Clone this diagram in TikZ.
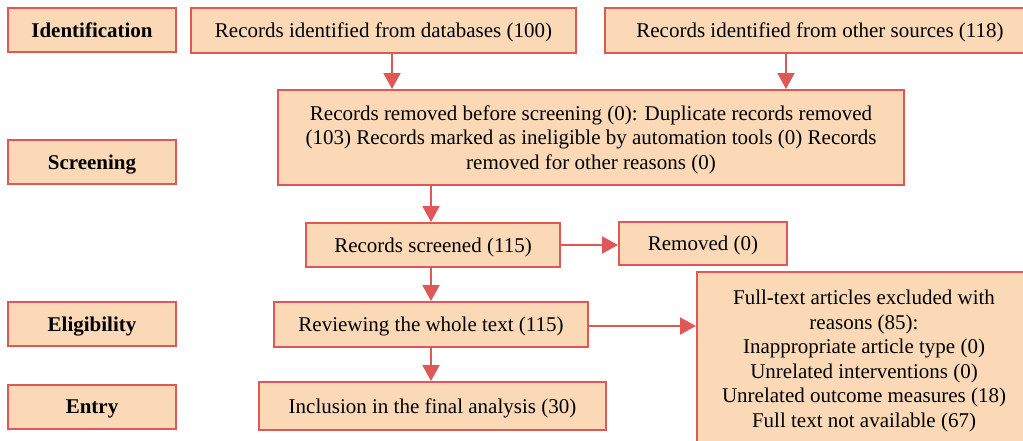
\documentclass[tikz,border=0pt]{standalone}
\usepackage{fontspec}
\setmainfont{Liberation Serif}
\usepackage{tikz}
\usetikzlibrary{arrows.meta,positioning}
\definecolor{boxfill}{HTML}{FCD9B6}
\definecolor{boxline}{HTML}{E05757}

\begin{document}
\begin{tikzpicture}[x=1pt, y=-1pt, line width=2pt, >={Triangle[width=17pt,length=16pt]},
  box/.style={draw=boxline, fill=boxfill, inner sep=0pt, align=center, text depth=0pt,
    font=\fontsize{21}{24.6}\selectfont},
  stage/.style={box, minimum width=168pt, minimum height=44pt, font=\fontsize{21}{24.6}\selectfont\bfseries},
  arr/.style={->, draw=boxline}]

\useasboundingbox (0,0) rectangle (1023,440);

% stage labels
\node[stage] (ident) at (92,30) {Identification};
\node[stage] (screen) at (92,162) {Screening};
\node[stage] (elig) at (92,324) {Eligibility};
\node[stage] (entry) at (92,407) {Entry};

% flow
\node[box, minimum width=385pt, minimum height=45pt] (db) at (383.5,30.5) {Records identified from databases (100)};
\node[box, minimum width=430pt, minimum height=45pt] (other) at (820,30.5) {Records identified from other sources (118)};
\node[box, minimum width=626pt, minimum height=95pt] (before) at (591,137.5) {Records removed before screening (0): Duplicate records removed\\(103) Records marked as ineligible by automation tools (0) Records\\removed for other reasons (0)};
\node[box, minimum width=254pt, minimum height=44pt] (screened) at (433,245) {Records screened (115)};
\node[box, minimum width=168pt, minimum height=43pt] (removed) at (703,243.5) {Removed (0)};
\node[box, minimum width=314pt, minimum height=45pt] (review) at (431,324.5) {Reviewing the whole text (115)};
\node[box, minimum width=347pt, minimum height=48pt] (incl) at (432.5,406) {Inclusion in the final analysis (30)};
\node[box, text depth=, minimum width=334pt, minimum height=178pt] (full) at (864,361) {Full-text articles excluded with\\reasons (85):\\Inappropriate article type (0)\\Unrelated interventions (0)\\Unrelated outcome measures (18)\\Full text not available (67)};

\draw[arr] ([xshift=8.5pt]db.south) -- ([xshift=8.5pt]db.south |- before.north);
\draw[arr] ([xshift=-34pt]other.south) -- ([xshift=-34pt]other.south |- before.north);
\draw[arr] (before.south -| review.north) -- (review.north |- screened.north);
\draw[arr] (screened.south -| review.north) -- (review.north);
\draw[arr] (screened.east) -- (screened.east -| removed.west);
\draw[arr] (review.south) -- (review.south |- incl.north);
\draw[arr] ([yshift=-1.5pt]review.east) -- ([yshift=-1.5pt]review.east -| full.west);

\end{tikzpicture}
\end{document}
